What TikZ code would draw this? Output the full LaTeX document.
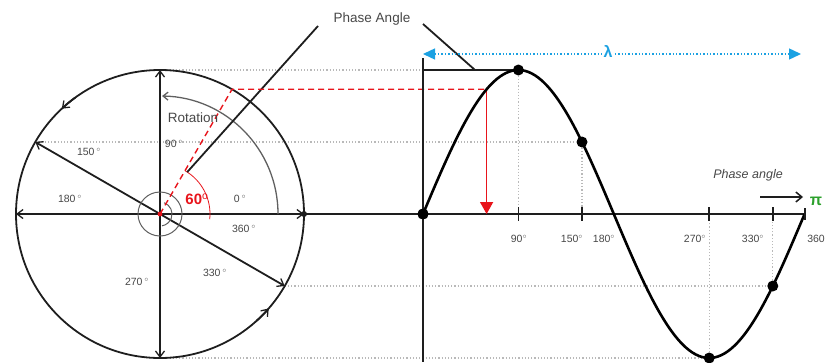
\documentclass[tikz,border=0pt]{standalone}
\usepackage{fontspec}
\setmainfont{Liberation Sans}
\usetikzlibrary{arrows.meta,calc}
\definecolor{lblue}{HTML}{1BA1E2}
\definecolor{dgreen}{HTML}{2CA02C}
\definecolor{lineg}{HTML}{1E1E1E}
\definecolor{txtg}{HTML}{474747}
\definecolor{redc}{HTML}{E8141B}
\begin{document}
\begin{tikzpicture}[x=1pt,y=-1pt,
  mainline/.style={draw=lineg,line width=1.8pt},
  barb/.style={-{Straight Barb[length=6pt,width=9pt,line width=1.3pt]}},
  guide/.style={draw=gray!55,line width=1.2pt,dotted},
  dotn/.style={circle,fill=black,inner sep=0pt,minimum size=11pt},
  lbl/.style={text=txtg,font=\fontsize{10.5}{12}\selectfont,inner sep=1pt},
  tick/.style={draw=lineg,line width=1.8pt}]
\useasboundingbox (0,0) rectangle (826,362);

% circle geometry
\coordinate (c) at (160,214);
\coordinate (top) at (160,70);
\coordinate (bot) at (160,358);
\coordinate (lft) at (16,214);
\coordinate (rgt) at (304,214);
\coordinate (p150) at ([shift={(-150:144)}]c);
\coordinate (p330) at ([shift={(-330:144)}]c);
\coordinate (p60) at ([shift={(-60:144)}]c);
\coordinate (pa1) at ([shift={(-57:50)}]c);
\coordinate (pa2) at (318,26);

% sine geometry
\newcommand{\sx}[1]{423+#1*1.06}
\node[dotn] (d0) at (423,214) {};
\node[dotn] (d90) at ({\sx{90}},{214-144*sin(90)}) {};
\node[dotn] (d150) at ({\sx{150}},{214-144*sin(150)}) {};
\node[dotn] (d270) at ({\sx{270}},{214-144*sin(270)}) {};
\node[dotn] (d330) at ({\sx{330}},{214-144*sin(330)}) {};
\coordinate (s60) at ({\sx{60}},{214-144*sin(60)});
\coordinate (axend) at ({\sx{360}},214);
\coordinate (vtop) at (423,58);
\coordinate (vbot) at (423,362);

% guides
\draw[guide] (top) -- (d90);
\draw[guide] (p150) -- (d150);
\draw[guide] (p330) -- (d330);
\draw[guide] (bot) -- (d270);
\draw[guide] (d90) -- (d90 |- c);
\draw[guide] (d150) -- (d150 |- c);
\draw[guide] (d270) -- (d270 |- c);
\draw[guide] (d330) -- (d330 |- c);

% circle
\draw[mainline] (c) circle[radius=144];
\draw[mainline,barb] ([shift={(-126:144)}]c) arc[start angle=-126,end angle=-133,radius=144];
\draw[mainline,barb] ([shift={(-312:144)}]c) arc[start angle=-312,end angle=-319,radius=144];
\draw[mainline,{Straight Barb[length=6pt,width=9pt,line width=1.3pt]}-{Straight Barb[length=6pt,width=9pt,line width=1.3pt]}] (top) -- (bot);
\draw[mainline,{Straight Barb[length=6pt,width=9pt,line width=1.3pt]}-{Straight Barb[length=6pt,width=9pt,line width=1.3pt]}] (lft) -- (rgt);
\draw[mainline,{Straight Barb[length=6pt,width=9pt,line width=1.3pt]}-{Straight Barb[length=6pt,width=9pt,line width=1.3pt]}] (p150) -- (p330);
\fill[lineg] (rgt) circle[radius=3];
\draw[mainline] (rgt) -- (axend);
\draw[draw=gray!75!black,line width=1.3pt,-{Straight Barb[length=5pt,width=8pt]}] ([shift={(0:118)}]c) arc[start angle=0,end angle=-89,radius=118];
\draw[gray!75!black,line width=1pt] (c) circle[radius=22];
\draw[gray!75!black,line width=1pt] ([shift={(-70:12)}]c) arc[start angle=-70,end angle=80,radius=12];
\draw[redc,line width=0.8pt] ([shift={(-60:50)}]c) arc[start angle=-60,end angle=6,radius=50];

% phase angle leaders
\draw[mainline] (pa1) -- (pa2);
\draw[mainline] (423,24) -- (475,70);
\draw[mainline] (423,70) -- (d90);
\node[text=txtg,font=\fontsize{13.5}{15}\selectfont] (pan) at (372,19) {Phase Angle};

% red construction
\draw[redc,line width=1.4pt,dashed,dash pattern=on 6pt off 4pt] (c) -- (p60) -- (p60 -| s60);
\draw[redc,line width=1.5pt,-{Triangle[length=12pt,width=13pt]}] (p60 -| s60) -- (s60 |- c);
\fill[redc] (c) circle[radius=2.4];
\node[text=redc,font=\fontsize{15}{17}\selectfont\bfseries] (l60) at (197,199) {60$^{\mathrm{o}}$};

% sine axes
\draw[mainline] (vtop) -- (vbot);
\draw[line width=2.6pt,black] plot[domain=0:360,samples=120,smooth] ({\sx{\x}},{214-144*sin(\x)});
\foreach \a in {90,150,270,330} \draw[tick] ({\sx{\a}},207) -- ({\sx{\a}},221);
\draw[tick] ({\sx{360}},208) -- ({\sx{360}},220);
\node[dotn] at (d0) {};

% lambda
\draw[lblue,line width=1.4pt,dotted,{Triangle[length=12pt,width=11pt]}-{Triangle[length=12pt,width=11pt]}] (423,54) -- (801,54);
\node[fill=white,text=lblue,font=\fontsize{16}{18}\selectfont\bfseries,inner sep=2pt] (lam) at (608,51) {λ};

% phase angle (right)
\node[text=txtg,font=\fontsize{12.5}{14}\selectfont\itshape] (pa) at (748,175) {Phase angle};
\coordinate (ar1) at (760,197);
\coordinate (ar2) at (803,197);
\draw[lineg,line width=1.5pt,-{Straight Barb[length=6pt,width=10pt]}] (ar1) -- (ar2);
\node[text=dgreen,font=\fontsize{16}{18}\selectfont\bfseries] (pi) at (816,201) {π};

% axis labels
\node[lbl] at (519,239) {90$^{\circ}$};
\node[lbl] at (572,239) {150$^{\circ}$};
\node[lbl] at (604,239) {180$^{\circ}$};
\node[lbl] at (695,239) {270$^{\circ}$};
\node[lbl] at (753,239) {330$^{\circ}$};
\node[lbl] at (816,239) {360};

% circle labels
\node[lbl] at (89,152) {150\,$^{\circ}$};
\node[lbl] at (174,144) {90\,$^{\circ}$};
\node[lbl] at (70,199) {180\,$^{\circ}$};
\node[lbl] at (240,199) {0\,$^{\circ}$};
\node[lbl] at (244,229) {360\,$^{\circ}$};
\node[lbl] at (137,282) {270\,$^{\circ}$};
\node[lbl] at (215,273) {330\,$^{\circ}$};
\node[text=txtg,font=\fontsize{13.5}{15}\selectfont] (rot) at (193,118) {Rotation};
\end{tikzpicture}
\end{document}
